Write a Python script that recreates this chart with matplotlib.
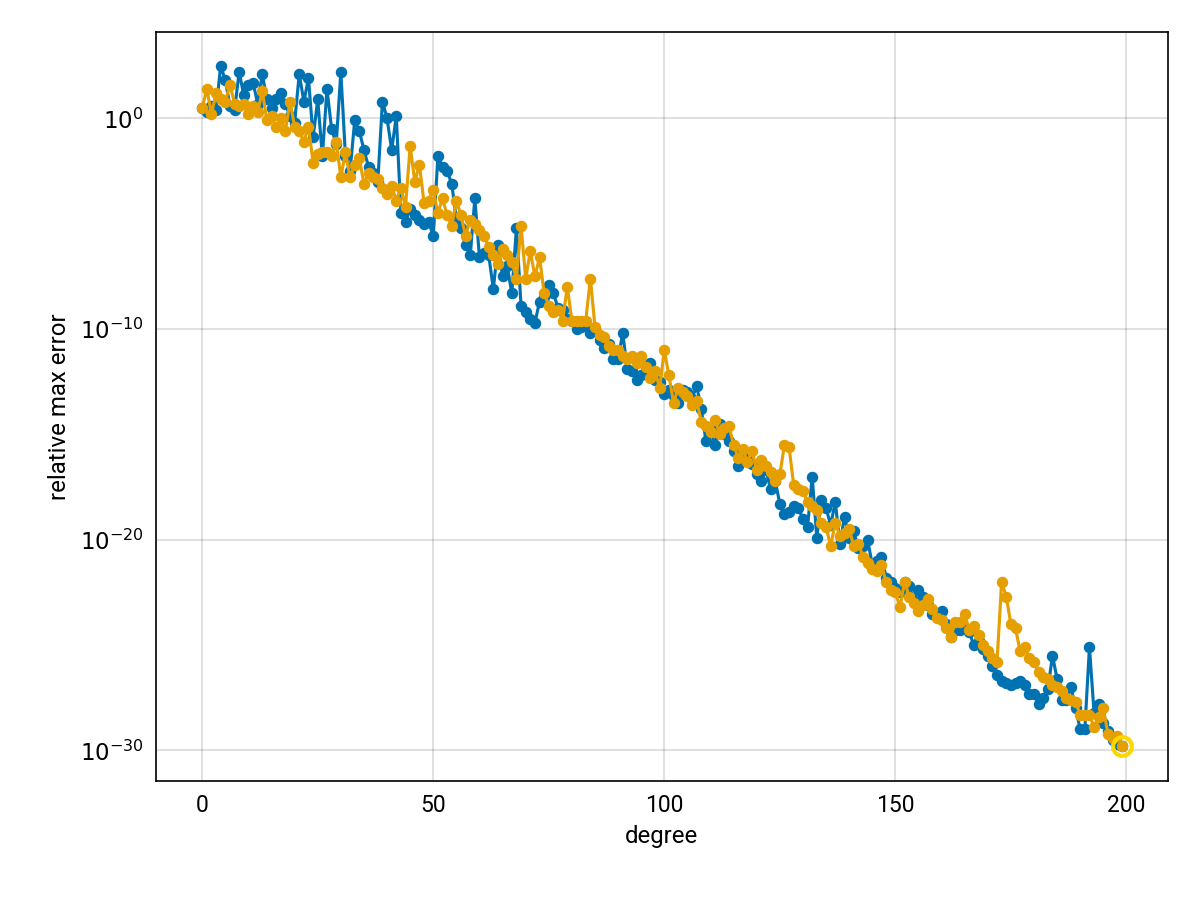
import numpy as np
import matplotlib
matplotlib.use("Agg")
import matplotlib.pyplot as plt
from matplotlib.ticker import FixedLocator

degree = np.arange(200)
blue_log = [0.5, 0.3, 0.6, 0.4, 2.5, 1.8, 0.6, 0.4, 2.2, 1.1,
 1.6, 1.7, 0.7, 2.1, 0.9, 0.5, 0.9, 1.2, 0.7, 0.1,
 -0.2, 2.1, 0.8, 1.9, -0.9, 0.9, -1.8, 1.4, -0.5, -1.2,
 2.2, -1.8, -2.5, -0.1, -0.6, -1.5, -2.3, -2.6, -3.0, 0.8,
 0.0, -1.5, 0.1, -4.5, -4.9, -4.3, -4.6, -4.8, -5.0, -4.9,
 -5.6, -1.8, -2.3, -2.5, -3.1, -4.8, -5.2, -6.0, -6.5, -3.8,
 -6.6, -6.4, -6.5, -8.1, -6.0, -7.5, -7.0, -8.3, -5.2, -8.9,
 -9.2, -9.5, -9.7, -8.7, -8.5, -7.9, -8.3, -9.0, -9.1, -9.5,
 -9.6, -10.0, -9.9, -9.8, -10.2, -10.0, -10.5, -10.9, -10.7, -11.4,
 -11.4, -10.2, -11.9, -12.0, -12.4, -12.2, -12.0, -11.6, -12.4, -12.5,
 -13.1, -12.9, -13.2, -13.5, -12.9, -13.0, -13.3, -12.7, -13.8, -15.3,
 -14.8, -15.5, -14.5, -15.0, -15.3, -15.8, -16.5, -15.8, -16.2, -16.4,
 -16.9, -17.2, -16.7, -17.6, -17.2, -18.3, -18.8, -18.7, -18.4, -18.5,
 -19.0, -19.4, -17.0, -19.9, -18.1, -18.5, -19.3, -18.2, -20.2, -18.9,
 -19.9, -19.6, -20.4, -20.3, -20.0, -21.2, -21.0, -20.8, -21.8, -22.0,
 -22.3, -22.5, -22.0, -22.2, -22.9, -22.4, -22.7, -23.1, -23.5, -23.5,
 -23.4, -24.0, -24.6, -24.3, -24.3, -24.2, -24.4, -25.0, -24.8, -25.2,
 -25.5, -26.0, -26.4, -26.7, -26.8, -26.9, -26.8, -26.7, -26.9, -27.3,
 -27.3, -27.8, -27.5, -27.1, -25.5, -26.6, -27.6, -27.6, -27.0, -28.0,
 -29.0, -29.0, -25.1, -28.2, -27.8, -28.7, -29.1, -29.5, -29.7, -29.8]
orange_log = [0.5, 1.4, 0.2, 1.2, 0.9, 0.8, 1.6, 0.7, 0.6, 0.7,
 0.2, 0.6, 0.3, 1.3, -0.1, 0.1, -0.4, 0.0, -0.6, 0.8,
 -0.4, -0.6, -1.1, -0.4, -2.1, -1.7, -1.6, -1.6, -1.8, -1.1,
 -2.8, -1.6, -2.8, -2.2, -1.9, -3.1, -2.6, -2.8, -2.9, -3.3,
 -3.6, -3.2, -3.9, -3.3, -4.2, -1.3, -3.0, -2.2, -4.0, -3.9,
 -3.4, -4.5, -3.8, -4.6, -5.1, -3.9, -4.6, -5.6, -4.8, -5.0,
 -5.3, -5.6, -6.1, -6.5, -6.9, -6.2, -6.5, -6.8, -7.6, -5.1,
 -7.6, -6.3, -7.5, -6.6, -8.3, -8.9, -9.2, -9.1, -9.6, -8.0,
 -9.6, -9.6, -9.6, -9.6, -7.6, -9.9, -10.3, -10.4, -10.8, -11.0,
 -11.0, -11.3, -11.4, -11.3, -11.6, -11.3, -11.8, -12.3, -12.0, -12.8,
 -11.0, -12.2, -13.5, -12.8, -13.0, -13.2, -13.6, -13.4, -14.4, -14.6,
 -14.9, -14.3, -15.0, -14.7, -14.6, -15.5, -16.1, -15.7, -16.3, -15.8,
 -16.7, -16.2, -16.5, -16.8, -17.2, -16.9, -15.5, -15.6, -17.4, -17.6,
 -17.7, -18.2, -18.4, -18.6, -19.2, -19.4, -20.3, -19.2, -19.8, -19.7,
 -19.5, -20.3, -20.2, -20.8, -21.1, -21.4, -21.5, -21.2, -22.0, -22.4,
 -22.5, -23.2, -22.0, -22.7, -23.0, -23.4, -23.1, -22.8, -23.3, -23.7,
 -23.8, -24.2, -24.6, -23.9, -23.9, -23.5, -24.3, -24.1, -24.5, -25.0,
 -25.3, -25.6, -25.8, -22.0, -22.7, -24.0, -24.2, -25.3, -25.1, -25.6,
 -25.8, -26.3, -26.5, -26.6, -26.9, -27.0, -27.2, -27.5, -27.6, -27.7,
 -28.3, -28.3, -28.3, -28.9, -28.4, -28.0, -29.2, -29.4, -29.3, -29.8]
blue = 10.0 ** np.array(blue_log)
orange = 10.0 ** np.array(orange_log)

plt.rcParams['font.family'] = ['Roboto', 'DejaVu Sans']
fig = plt.figure(figsize=(8, 6), dpi=150)
ax = fig.add_axes([156/1200, 1-781/900, (1168-156)/1200, (781-32)/900])
ax.plot(degree, blue, '-o', color='#0072b2', lw=1.5, ms=4.5, zorder=3)
ax.plot(degree, orange, '-o', color='#e69f00', lw=1.5, ms=4.5, zorder=4)
ax.plot(degree[-1], orange[-1], 'o', ms=9, mfc='none', mec='#ffd700', mew=2, zorder=5)
ax.set_yscale('log')
ax.set_ylim(10**-31.45, 10**4.1)
ax.set_xlim(-10, 209)
ax.yaxis.set_major_locator(FixedLocator([1e-30, 1e-20, 1e-10, 1e0]))
ax.yaxis.set_minor_locator(FixedLocator([]))
ax.set_yticklabels(['$10^{-30}$', '$10^{-20}$', '$10^{-10}$', '$10^{0}$'])
ax.set_xticks([0, 50, 100, 150, 200])
ax.grid(True, color='#000000', alpha=0.12, lw=1)
ax.set_axisbelow(True)
ax.tick_params(length=0, labelsize=11, pad=6)
plt.rcParams['mathtext.fontset'] = 'custom'
ax.set_xlabel('degree', fontsize=11.5)
ax.set_ylabel('relative max error', fontsize=11.5)
fig.savefig('out.png', dpi=150)
